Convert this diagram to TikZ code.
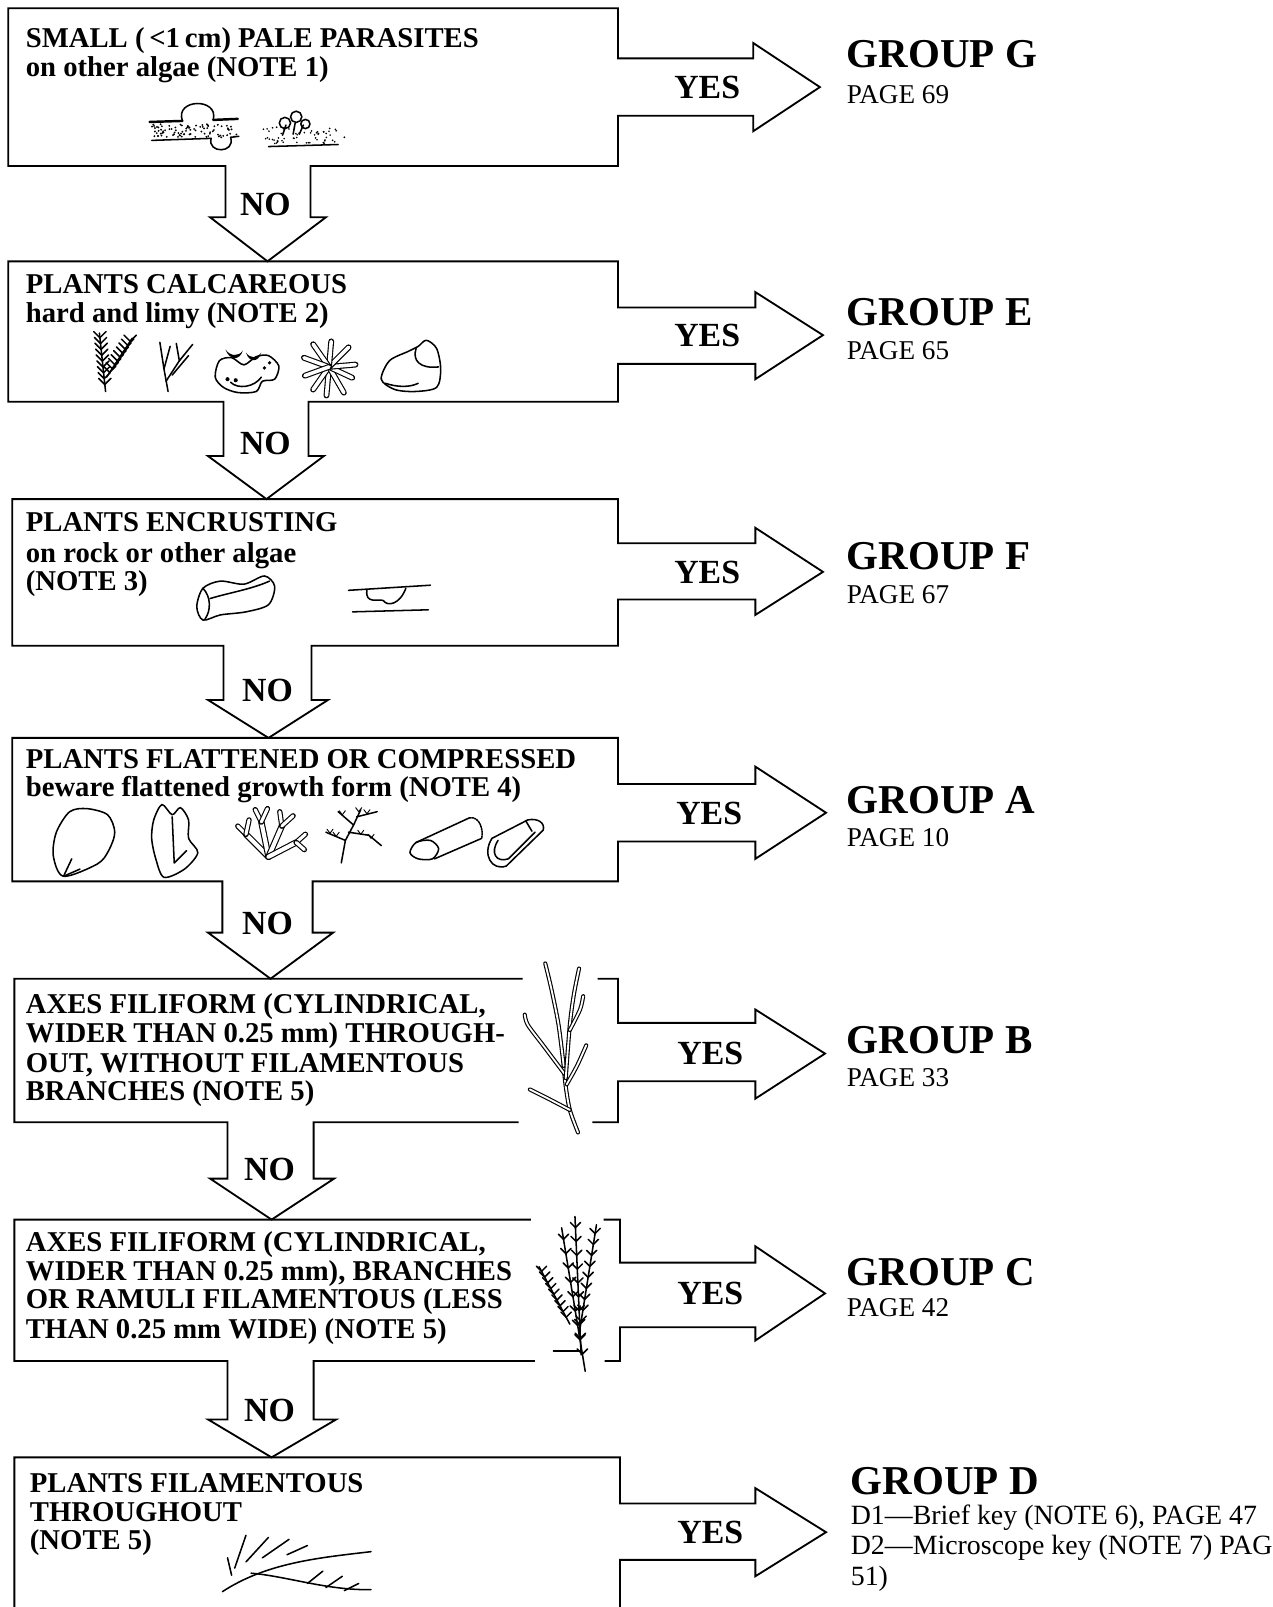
\documentclass[tikz,border=0pt]{standalone}
\usepackage{fontspec}
\setmainfont{Liberation Serif}
\usetikzlibrary{calc}
\newcommand{\fernsk}[3]{%
  \draw[sk] #1 -- #2;
  \foreach \t in {0.12,0.22,...,0.96} {
    \draw[sk] ($#1!\t!#2$) -- ++(-#3,-#3);
    \draw[sk] ($#1!\t!#2$) -- ++(#3,-#3);
  }}
\tikzset{
  outl/.style={line width=1.8pt, line join=miter},
  sk/.style={line width=1.5pt, line cap=round, line join=round},
  twig/.style={line width=1.1pt, double=white, double distance=1.8pt, line cap=round},
  btxt/.style={font=\fontsize{28}{28}\selectfont\bfseries, anchor=base west, inner sep=0pt},
  grp/.style={font=\fontsize{40}{40}\selectfont\bfseries, anchor=base west, inner sep=0pt},
  pg/.style={font=\fontsize{26.5}{26.5}\selectfont, anchor=base west, inner sep=0pt},
  pgd/.style={font=\fontsize{27.2}{27.2}\selectfont, anchor=base west, inner sep=0pt},
  yn/.style={font=\fontsize{33}{33}\selectfont\bfseries, anchor=base, inner sep=0pt},
}
\begin{document}
\begin{tikzpicture}[x=1pt, y=-1pt]
\fill[white] (0,0) rectangle (1242,1568);
\useasboundingbox (0,0) rectangle (1242,1568);

% ---------------- outlines with block arrows ----------------
% G
\draw[outl] (603,57) -- (603,8) -- (8,8) -- (8,162) -- (220,162) -- (220,212) -- (205,212) -- (261,255) -- (318,212) -- (303,212) -- (303,162) -- (603,162) -- (603,113) -- (735,113) -- (735,128) -- (800,85) -- (735,42) -- (735,57) -- cycle;
% E
\draw[outl] (603,300) -- (603,255) -- (8,255) -- (8,392) -- (218,392) -- (218,445) -- (203,445) -- (260,487) -- (316,445) -- (301,445) -- (301,392) -- (603,392) -- (603,355) -- (737,355) -- (737,370) -- (803,327) -- (737,285) -- (737,300) -- cycle;
% F
\draw[outl] (603,530) -- (603,487) -- (12,487) -- (12,630) -- (218,630) -- (218,683) -- (203,683) -- (262,720) -- (320,683) -- (304,683) -- (304,630) -- (603,630) -- (603,585) -- (737,585) -- (737,600) -- (803,558) -- (737,515) -- (737,530) -- cycle;
% A
\draw[outl] (603,765) -- (603,720) -- (12,720) -- (12,860) -- (217,860) -- (217,910) -- (203,910) -- (264,955) -- (325,910) -- (305,910) -- (305,860) -- (603,860) -- (603,821) -- (737,821) -- (737,838) -- (806,793) -- (737,748) -- (737,765) -- cycle;
% B
\draw[outl] (510,955) -- (14,955) -- (14,1095) -- (222,1095) -- (222,1150) -- (205,1150) -- (265,1190) -- (326,1150) -- (306,1150) -- (306,1095) -- (506,1095);
\draw[outl] (583,955) -- (603,955) -- (603,998) -- (737,998) -- (737,985) -- (805,1028) -- (737,1072) -- (737,1055) -- (603,1055) -- (603,1095) -- (578,1095);
% C
\draw[outl] (518,1190) -- (14,1190) -- (14,1328) -- (222,1328) -- (222,1385) -- (203,1385) -- (265,1422) -- (328,1385) -- (306,1385) -- (306,1328) -- (522,1328);
\draw[outl] (589,1190) -- (605,1190) -- (605,1232) -- (737,1232) -- (737,1216) -- (805,1262) -- (737,1308) -- (737,1295) -- (605,1295) -- (605,1328) -- (590,1328);
% D
\draw[outl] (14,1580) -- (14,1422) -- (605,1422) -- (605,1467) -- (737,1467) -- (737,1452) -- (806,1495) -- (737,1538) -- (737,1522) -- (605,1522) -- (605,1580);

% ---------------- box texts ----------------
\node[btxt] (g1) at (25,46) {SMALL (\,<1\,cm) PALE PARASITES};
\node[btxt] (g2) at (25,75) {on other algae (NOTE 1)};
\node[btxt] (e1) at (25,286) {PLANTS CALCAREOUS};
\node[btxt] (e2) at (25,315) {hard and limy (NOTE 2)};
\node[btxt] (f1) at (25,519) {PLANTS ENCRUSTING};
\node[btxt] (f2) at (25,549) {on rock or other algae};
\node[btxt] (f3) at (25,576) {(NOTE 3)};
\node[btxt] (a1) at (25,750) {PLANTS FLATTENED OR COMPRESSED};
\node[btxt] (a2) at (25,777) {beware flattened growth form (NOTE 4)};
\node[btxt] (b1) at (25,989) {AXES FILIFORM (CYLINDRICAL,};
\node[btxt] (b2) at (25,1017) {WIDER THAN 0.25 mm) THROUGH-};
\node[btxt] (b3) at (25,1046) {OUT, WITHOUT FILAMENTOUS};
\node[btxt] (b4) at (25,1074) {BRANCHES (NOTE 5)};
\node[btxt] (c1) at (25,1221) {AXES FILIFORM (CYLINDRICAL,};
\node[btxt] (c2) at (25,1249) {WIDER THAN 0.25 mm), BRANCHES};
\node[btxt] (c3) at (25,1277) {OR RAMULI FILAMENTOUS (LESS};
\node[btxt] (c4) at (25,1306) {THAN 0.25 mm WIDE) (NOTE 5)};
\node[btxt] (d1) at (29,1456) {PLANTS FILAMENTOUS};
\node[btxt] (d2) at (29,1485) {THROUGHOUT};
\node[btxt] (d3) at (29,1512) {(NOTE 5)};

% ---------------- YES / NO ----------------
\node[yn] (yg) at (690,96) {YES};
\node[yn] (ye) at (690,338) {YES};
\node[yn] (yf) at (690,569) {YES};
\node[yn] (ya) at (692,804) {YES};
\node[yn] (yb) at (693,1039) {YES};
\node[yn] (yc) at (693,1273) {YES};
\node[yn] (yd) at (693,1506) {YES};
\node[yn] (ng) at (259,210) {NO};
\node[yn] (ne) at (259,443) {NO};
\node[yn] (nf) at (261,684) {NO};
\node[yn] (na) at (261,912) {NO};
\node[yn] (nb) at (263,1152) {NO};
\node[yn] (nc) at (263,1387) {NO};

% ---------------- groups ----------------
\node[grp] (GG) at (826,66) {GROUP G};
\node[pg] (PG) at (826,101) {PAGE 69};
\node[grp] (GE) at (826,318) {GROUP E};
\node[pg] (PE) at (826,351) {PAGE 65};
\node[grp] (GF) at (826,556) {GROUP F};
\node[pg] (PF) at (826,589) {PAGE 67};
\node[grp] (GA) at (826,794) {GROUP A};
\node[pg] (PA) at (826,826) {PAGE 10};
\node[grp] (GB) at (826,1028) {GROUP B};
\node[pg] (PB) at (826,1060) {PAGE 33};
\node[grp] (GC) at (826,1254) {GROUP C};
\node[pg] (PC) at (826,1285) {PAGE 42};
\node[grp] (GD) at (830,1458) {GROUP D};
\node[pgd] (PD1) at (830,1487) {D1—Brief key (NOTE 6), PAGE 47};
\node[pgd] (PD2) at (830,1517) {D2—Microscope key (NOTE 7) PAG};
\node[pgd] (PD3) at (830,1547) {51)};

% ---------------- sketches: row G ----------------
\draw[sk, line width=2.4pt] (146,119) -- (178,118);
\draw[sk, line width=2.4pt] (208,117) -- (232,116);
\draw[sk] (178,118) .. controls (170,96) and (214,95) .. (208,117);
\draw[sk] (148,137) -- (206,135);
\draw[sk] (225,134) -- (233,133);
\draw[sk] (206,135) .. controls (202,150) and (230,150) .. (225,134);
\pgfmathsetseed{7}
\foreach \i in {1,...,90} {
  \pgfmathsetmacro\xx{148+84*rnd}
  \pgfmathsetmacro\yy{121+13*rnd}
  \fill (\xx,\yy) circle[radius=1pt];
}
\draw[sk] (262,143) -- (330,141);
\foreach \i in {1,...,60} {
  \pgfmathsetmacro\xx{257+72*rnd}
  \pgfmathsetmacro\yy{124+16*rnd}
  \fill (\xx,\yy) circle[radius=0.9pt];
}
\fill (336,134) circle[radius=1pt];
\draw[sk] (276,131) -- (279,122); \draw[sk] (286,131) -- (288,120); \draw[sk] (292,131) -- (296,122);
\draw[sk] (278,120) circle[radius=5.5pt];
\draw[sk] (289,114) circle[radius=5.5pt];
\draw[sk] (298,121) circle[radius=4.5pt];

% ---------------- sketches: row E ----------------
\fernsk{(103,382)}{(97,325)}{6}
\fernsk{(104,368)}{(129,330)}{6}
\draw[sk] (164,382) -- (160,360) -- (156,334);
\draw[sk] (160,360) -- (166,338);
\draw[sk] (162,372) -- (175,352) -- (172,335);
\draw[sk] (175,352) -- (188,336);
\draw[sk] (168,366) -- (184,347);
\draw[sk] plot[smooth cycle] coordinates {(210,368) (214,352) (226,349) (238,356) (250,348) (262,347) (272,357) (268,370) (256,372) (250,382) (232,383) (218,378)};
\draw[sk] (225,373) .. controls (232,380) and (248,378) .. (255,368);
\fill (220,341) .. controls (224,352) and (234,352) .. (237,342) .. controls (233,348) and (225,348) .. cycle;
\fill (240,344) .. controls (243,354) and (252,354) .. (255,344) .. controls (251,350) and (244,350) .. cycle;
\fill (222,370) circle[radius=2pt];
\fill (230,371) circle[radius=2pt];
\fill (258,359) circle[radius=1.8pt];
\fill (263,354) circle[radius=1.8pt];
\foreach \a/\r in {95/28, 125/27, 60/29, 25/25, -5/26, -45/27, -85/25, -125/27, -160/26, 160/25} {
  \draw[twig, double distance=3.5pt] (321,358) -- ++(\a:\r);
}
\draw[sk] plot[smooth cycle] coordinates {(372,370) (380,352) (398,343) (408,338) (416,332) (426,340) (430,360) (426,378) (405,382) (385,380)};
\draw[sk] (406,340) .. controls (402,352) and (410,360) .. (428,358);
\draw[sk] (376,374) .. controls (388,378) and (400,378) .. (408,374);

% ---------------- sketches: row F ----------------
\draw[sk] plot[smooth cycle] coordinates {(192,592) (198,574) (215,567) (238,570) (258,562) (268,572) (262,590) (240,597) (215,600) (198,605)};
\draw[sk] (198,574) .. controls (206,582) and (206,596) .. (200,604);
\draw[sk] (205,584) .. controls (225,578) and (245,575) .. (263,567);
\draw[sk] (340,576) -- (420,571);
\draw[sk] (344,597) -- (418,595);
\draw[sk] (358,576) .. controls (356,590) and (370,584) .. (374,586) .. controls (378,592) and (390,590) .. (396,574);

% ---------------- sketches: row A ----------------
\draw[sk] plot[smooth cycle] coordinates {(55,812) (68,792) (85,789) (105,795) (112,812) (106,830) (95,843) (62,855) (52,835)};
\draw[sk] (62,855) -- (70,838);
\draw[sk] (62,855) -- (78,848);
\draw[sk] plot[smooth cycle] coordinates {(150,800) (158,785) (168,795) (176,788) (184,800) (184,818) (193,832) (180,848) (160,856) (152,838) (148,818)};
\draw[sk] (168,797) -- (170,842) -- (182,830);
\foreach \ax/\ay/\bx/\by/\cx/\cy in {240/814/232/806/243/800, 255/802/249/790/261/789, 275/806/273/792/286/796, 289/822/298/814/297/829} {
  \draw[twig, double distance=4pt] (262,836) -- (\ax,\ay);
  \draw[twig, double distance=3pt] (\ax,\ay) -- (\bx,\by);
  \draw[twig, double distance=3pt] (\ax,\ay) -- (\cx,\cy);
}
\draw[sk] (333,842) -- (337,820) -- (345,805) -- (352,790);
\draw[sk] (337,820) -- (318,812); \draw[sk] (340,812) -- (360,815) -- (372,825);
\draw[sk] (345,805) -- (330,792); \draw[sk] (348,797) -- (368,792);
\foreach \px/\py in {322/813, 328/816, 352/814, 362/818, 334/795, 358/794, 350/792} {
  \draw[sk, line width=0.9pt] (\px,\py) -- ++(-3,-4); \draw[sk, line width=0.9pt] (\px,\py) -- ++(3,-4);
}
\draw[sk] plot[smooth cycle] coordinates {(400,832) (406,822) (420,820) (428,828) (422,838) (408,838)};
\draw[sk] (406,822) -- (458,798);
\draw[sk] (424,838) -- (470,818);
\draw[sk, densely dotted] (458,798) .. controls (468,796) and (472,810) .. (470,818);
\draw[sk] (480,818) .. controls (470,834) and (480,850) .. (494,845) -- (530,810);
\draw[sk] (486,820) .. controls (478,832) and (484,842) .. (496,838) -- (522,812);
\draw[sk] (480,818) -- (515,800) .. controls (525,798) and (532,803) .. (530,810);
\draw[sk] (513,801) -- (519,811);

% ---------------- sketch: row B ----------------
\draw[twig] plot[smooth] coordinates {(564,1105) (556,1083) (552,1060) (550,1040)};
\draw[twig] plot[smooth] coordinates {(556,1083) (535,1072) (517,1063)};
\draw[twig] plot[smooth] coordinates {(551,1048) (530,1020) (515,1000) (512,990)};
\draw[twig] plot[smooth] coordinates {(550,1040) (545,1000) (538,965) (532,940)};
\draw[twig] plot[smooth] coordinates {(552,1052) (556,1000) (560,970) (565,945)};
\draw[twig] plot[smooth] coordinates {(553,1058) (563,1040) (572,1020)};
\draw[twig] plot[smooth] coordinates {(556,1005) (566,985) (569,972)};

% ---------------- sketch: row C ----------------
\fernsk{(571,1338)}{(548,1198)}{5}
\fernsk{(567,1322)}{(561,1187)}{5}
\fernsk{(565,1302)}{(582,1195)}{5}
\fernsk{(556,1292)}{(526,1236)}{5}
\draw[sk] (566,1318) -- (540,1318);

% ---------------- sketch: row D ----------------
\draw[sk] (217,1553) .. controls (260,1525) and (310,1520) .. (362,1514);
\draw[sk] (245,1535) .. controls (280,1538) and (320,1552) .. (362,1551);
\draw[sk] (229,1530) -- (240,1498);
\draw[sk] (240,1524) -- (262,1500);
\draw[sk] (256,1520) -- (282,1502);
\draw[sk] (280,1517) -- (300,1508);
\draw[sk] (226,1537) -- (222,1520);
\draw[sk] (300,1545) -- (315,1533);
\draw[sk] (318,1549) -- (334,1538);
\draw[sk] (336,1552) -- (350,1545);
\end{tikzpicture}
\end{document}
